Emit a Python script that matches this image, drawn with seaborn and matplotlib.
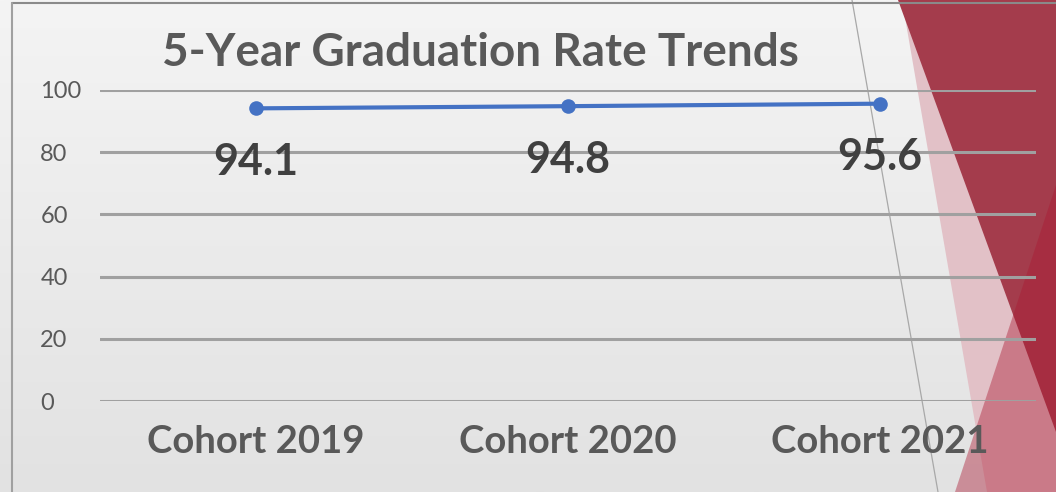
import matplotlib
matplotlib.use("Agg")
import matplotlib.pyplot as plt
from matplotlib.patches import Polygon
import numpy as np
import pandas as pd
import seaborn as sns

cohorts = ["Cohort 2019", "Cohort 2020", "Cohort 2021"]
rates = [94.1, 94.8, 95.6]
y_ticks = [0, 20, 40, 60, 80, 100]
title = "5-Year Graduation Rate Trends"

sns.set_theme(style="white")
plt.rcParams["font.family"] = ["Lato", "DejaVu Sans"]

W, H = 1056, 492
fig = plt.figure(figsize=(W / 100, H / 100), dpi=100)

# slide background: soft gradient, red triangles, frame
bg = fig.add_axes([0, 0, 1, 1], zorder=0)
grad = np.linspace(0, 1, 256).reshape(-1, 1)
bg.imshow(grad, extent=[0, W, H, 0], aspect="auto",
          cmap=matplotlib.colors.LinearSegmentedColormap.from_list("g", ["#f4f4f4", "#e2e2e2"]))
bg.add_patch(Polygon([(902, 0), (W, 0), (W, H), (987, H)], closed=True, color="#e2c1c7", lw=0))
bg.add_patch(Polygon([(898, 0), (W, 0), (W, 432)], closed=True, color="#a43c4c", lw=0))
bg.add_patch(Polygon([(W, 185), (955, H), (W, H)], closed=True, color="#aa1932", alpha=0.42, lw=0))
bg.plot([852, 938], [0, H], color="#a8a8a8", lw=0.9)
bg.plot([12, W], [3, 3], color="#8a8a8a", lw=1.5)
bg.plot([12, 12], [3, H], color="#a0a0a0", lw=1.5)
bg.set_xlim(0, W)
bg.set_ylim(H, 0)
bg.axis("off")

ax = fig.add_axes([100 / W, 1 - 401 / H, 936 / W, 311 / H], zorder=1)
ax.patch.set_alpha(0)

df = pd.DataFrame({"cohort": cohorts, "rate": rates})
sns.lineplot(data=df, x="cohort", y="rate", ax=ax, color="#4472C4", lw=3,
             marker="o", markersize=10.5, markeredgewidth=0, zorder=5)

for i, v in enumerate(rates):
    ax.annotate(f"{v}", (i, v), xytext=(0, -48), textcoords="offset points",
                ha="center", va="baseline", fontsize=31, fontweight="bold", color="#404040")

ax.set_xlim(-0.5, 2.5)
ax.set_ylim(0, 100)
ax.set_yticks(y_ticks)
ax.yaxis.grid(True, color="#a0a0a0", lw=2.2)
ax.set_axisbelow(True)
for s in ax.spines.values():
    s.set_visible(False)
ax.set_xlabel("")
ax.set_ylabel("")
ax.tick_params(axis="y", length=0, pad=43, labelsize=17, labelcolor="#595959")
for lab in ax.get_yticklabels():
    lab.set_horizontalalignment("left")
ax.tick_params(axis="x", length=0, pad=17, labelsize=27.5, labelcolor="#595959")
for lab in ax.get_xticklabels():
    lab.set_fontweight("bold")

fig.text(480 / W, 1 - 66 / H, title, ha="center", va="baseline",
         fontsize=33, fontweight="bold", color="#595959")

fig.savefig("out.png", dpi=100)
